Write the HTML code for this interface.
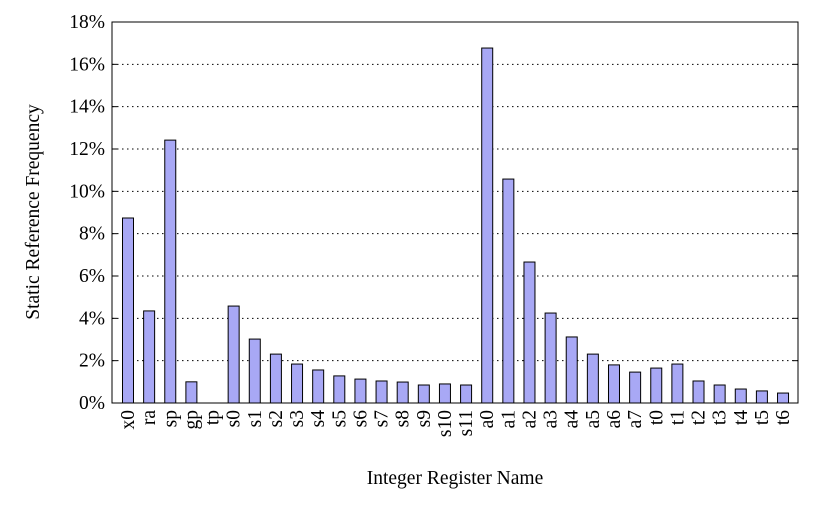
<!DOCTYPE html>
<html><head><meta charset="utf-8"><style>
body{margin:0;background:#fff;}
svg text{font-family:"Liberation Serif",serif;font-size:19.5px;fill:#000;}
</style></head><body>
<svg id="chart" width="829" height="500"></svg>
<script>
const categories=["x0","ra","sp","gp","tp","s0","s1","s2","s3","s4","s5","s6","s7","s8","s9","s10","s11","a0","a1","a2","a3","a4","a5","a6","a7","t0","t1","t2","t3","t4","t5","t6"];
const values=[8.74,4.35,12.42,1.0,0,4.58,3.02,2.31,1.84,1.56,1.28,1.13,1.04,0.99,0.85,0.9,0.85,16.77,10.58,6.66,4.25,3.12,2.31,1.8,1.46,1.65,1.84,1.04,0.85,0.66,0.57,0.47];
const yTicks=[0,2,4,6,8,10,12,14,16,18];
const NS="http://www.w3.org/2000/svg";
const svg=document.getElementById('chart');
const L=112,R=798,T=22,B=403;
const y=v=>B-(v/18)*(B-T);
const step=21.13, x0c=128;
const x=i=>x0c+i*step;
function mk(t,a,p){const e=document.createElementNS(NS,t);for(const k in a)e.setAttribute(k,a[k]);(p||svg).appendChild(e);return e;}
yTicks.forEach(v=>{
  if(v>0&&v<18){const g=mk('line',{x1:L,x2:R,y1:y(v),y2:y(v),stroke:'#000','stroke-width':1,'stroke-dasharray':'1.5,3.5'});
  
  }
  const tk=mk('line',{x1:L,x2:L+5,y1:y(v),y2:y(v),stroke:'#000'});
  
  
  const tk2=mk('line',{x1:R-5,x2:R,y1:y(v),y2:y(v),stroke:'#000'});
  
  
  const t=mk('text',{x:L-7,y:y(v)+6,'text-anchor':'end'});t.textContent=v+'%';
  
  
});
categories.forEach((c,i)=>{
  const h=B-y(values[i]);
  if(h>0){const b=mk('rect',{x:x(i)-5.5,y:y(values[i]),width:11,height:h,fill:'#a8a8f5',stroke:'#000','stroke-width':1});
  
  }
  const t=mk('text',{transform:`translate(${x(i)+6},${B+7}) rotate(-90)`,'text-anchor':'end'});t.textContent=c;
  
  
});
const f=mk('rect',{x:L,y:T,width:R-L,height:B-T,fill:'none',stroke:'#000','stroke-width':1});


const xt=mk('text',{x:455,y:484,'text-anchor':'middle'});xt.textContent='Integer Register Name';


const yt=mk('text',{transform:'translate(39,212) rotate(-90)','text-anchor':'middle'});yt.textContent='Static Reference Frequency';


</script>
</body></html>
